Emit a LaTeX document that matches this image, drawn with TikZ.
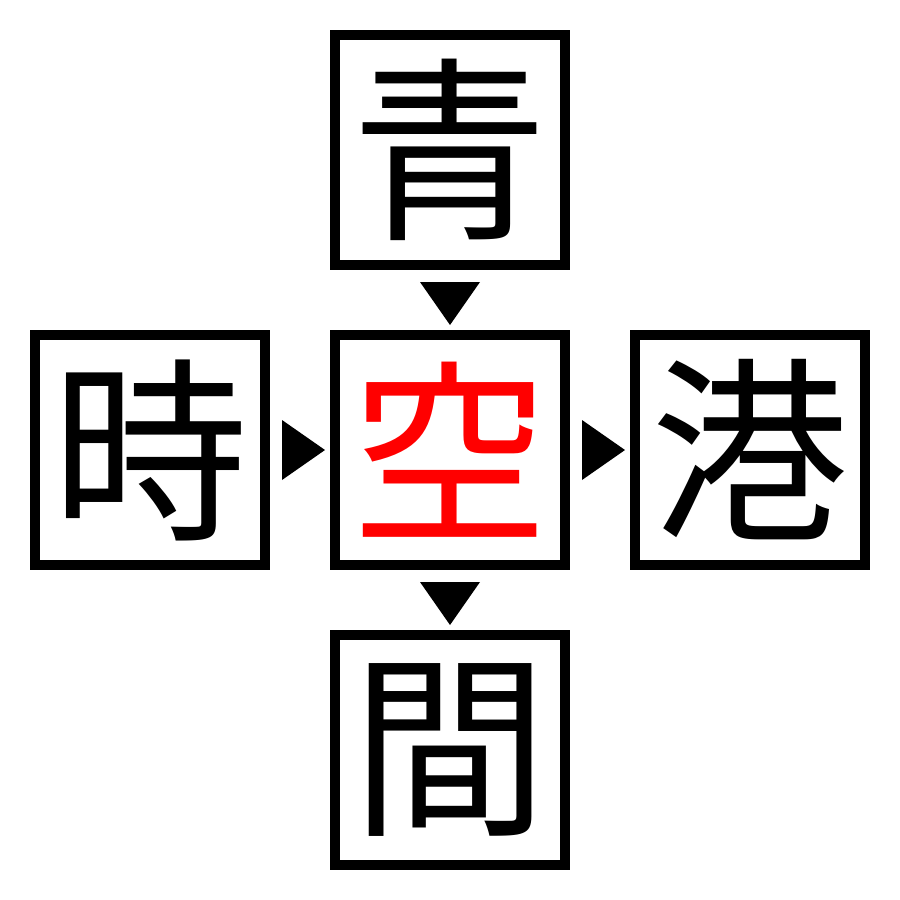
\documentclass[tikz,border=0pt]{standalone}
\usepackage{fontspec}
\newfontfamily\cjk{Noto Sans CJK JP}
\begin{document}
\begin{tikzpicture}[x=0.01cm,y=-0.01cm,
  kbox/.style={draw=black,line width=0.1cm,minimum size=2.3cm,inner sep=0pt,font=\cjk\fontsize{56}{56}\selectfont},
  tri/.style={fill=black,draw=none}]
\useasboundingbox (0,0) rectangle (900,900);
\node[kbox] (top) at (450,150) {青};
\node[kbox] (left) at (150,450) {時};
\node[kbox,text={rgb,255:red,255;green,0;blue,0}] (mid) at (450,450) {空};
\node[kbox] (right) at (750,450) {港};
\node[kbox] (bot) at (450,750) {間};
\fill[tri] (420,282) -- (480,282) -- (450,325) -- cycle;
\fill[tri] (420,582) -- (480,582) -- (450,625) -- cycle;
\fill[tri] (282,420) -- (282,480) -- (325,450) -- cycle;
\fill[tri] (582,420) -- (582,480) -- (625,450) -- cycle;
\end{tikzpicture}
\end{document}
